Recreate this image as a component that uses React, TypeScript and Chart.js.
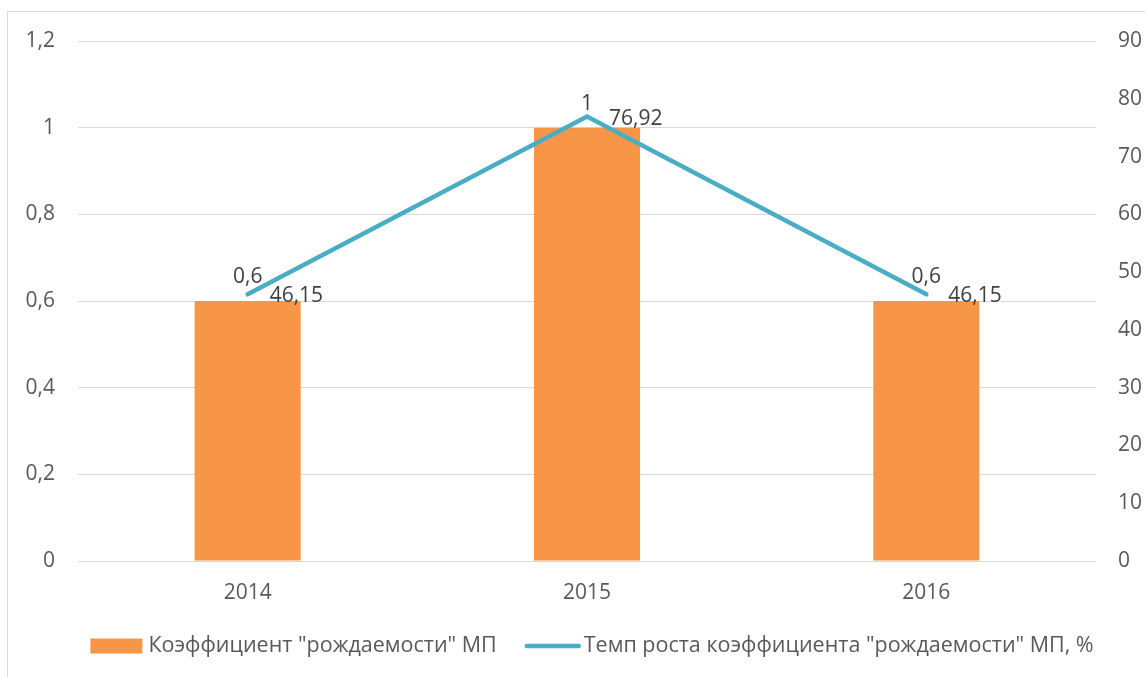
import React, { useEffect, useRef } from "react";
import { Chart, registerables } from "chart.js";

Chart.register(...registerables);

const categories = ["2014", "2015", "2016"];
const birthRate = [0.6, 1, 0.6];
const growthRate = [46.15, 76.92, 46.15];
const seriesNames = [
  'Коэффициент "рождаемости" МП',
  'Темп роста коэффициента "рождаемости" МП, %',
];

const ORANGE = "#f79646";
const TEAL = "#4bacc6";
const TEXT = "#595959";
const GRID = "#d9d9d9";
const FONT = '"Open Sans", "DejaVu Sans", sans-serif';

const fmt = (v: number) => String(Math.round(v * 100) / 100).replace(".", ",");

const dataLabelPlugin = {
  id: "dataLabels",
  afterDatasetsDraw(chart: any) {
    const ctx = chart.ctx;
    ctx.save();
    ctx.font = `21px ${FONT}`;
    ctx.fillStyle = "#404040";
    const barMeta = chart.getDatasetMeta(0);
    barMeta.data.forEach((el: any, i: number) => {
      ctx.textAlign = "center";
      ctx.textBaseline = "bottom";
      ctx.fillText(fmt(birthRate[i]), el.x, el.y - 13);
    });
    const lineMeta = chart.getDatasetMeta(1);
    lineMeta.data.forEach((el: any, i: number) => {
      ctx.textAlign = "left";
      ctx.textBaseline = "middle";
      ctx.fillText(fmt(growthRate[i]), el.x + 22, el.y + 2);
    });
    ctx.restore();
  },
};

const legendPlugin = {
  id: "customLegend",
  afterDraw(chart: any) {
    const ctx = chart.ctx;
    ctx.save();
    ctx.font = `21.5px ${FONT}`;
    ctx.fillStyle = TEXT;
    ctx.textAlign = "left";
    ctx.textBaseline = "middle";
    const items = [
      { kind: "box", w: 52, gap: 6, text: seriesNames[0] },
      { kind: "line", w: 56, gap: 3, text: seriesNames[1] },
    ];
    const itemGap = 28;
    const widths = items.map((it) => it.w + it.gap + ctx.measureText(it.text).width);
    const total = widths.reduce((a, b) => a + b, 0) + itemGap * (items.length - 1);
    const ca = chart.chartArea;
    let x = (ca.left + ca.right) / 2 + 5 - total / 2;
    const y = chart.height - 31;
    items.forEach((it, i) => {
      if (it.kind === "box") {
        ctx.fillStyle = ORANGE;
        ctx.fillRect(x, y - 7.5, it.w, 15);
      } else {
        ctx.strokeStyle = TEAL;
        ctx.lineWidth = 4.5;
        ctx.lineCap = "round";
        ctx.beginPath();
        ctx.moveTo(x + 2, y);
        ctx.lineTo(x + it.w - 2, y);
        ctx.stroke();
      }
      ctx.fillStyle = TEXT;
      ctx.fillText(it.text, x + it.w + it.gap, y);
      x += widths[i] + itemGap;
    });
    ctx.restore();
  },
};

export default function App() {
  const canvasRef = useRef<HTMLCanvasElement | null>(null);

  useEffect(() => {
    let chart: Chart | null = null;
    let cancelled = false;
    const make = () => {
      if (cancelled || !canvasRef.current) return;
      chart = new Chart(canvasRef.current, {
        type: "bar",
        data: {
          labels: categories,
          datasets: [
            {
              type: "bar",
              label: seriesNames[0],
              data: birthRate,
              backgroundColor: ORANGE,
              borderWidth: 0,
              yAxisID: "y",
              categoryPercentage: 1,
              barPercentage: 0.3125,
              order: 2,
            },
            {
              type: "line",
              label: seriesNames[1],
              data: growthRate,
              borderColor: TEAL,
              backgroundColor: TEAL,
              borderWidth: 4.5,
              pointRadius: 0,
              tension: 0,
              borderCapStyle: "round",
              borderJoinStyle: "miter",
              yAxisID: "y1",
              order: 1,
            } as any,
          ],
        },
        options: {
          animation: false,
          responsive: false,
          maintainAspectRatio: false,
          layout: { padding: { top: 41, bottom: 66, left: 0, right: 0 } },
          plugins: {
            legend: { display: false },
            tooltip: { enabled: false },
          },
          scales: {
            x: {
              grid: { display: false, drawTicks: false },
              border: { display: false },
              ticks: {
                color: TEXT,
                font: { family: FONT, size: 21 },
                padding: 19,
              },
              afterFit: (s: any) => {
                s.height = 50;
              },
            },
            y: {
              position: "left",
              min: 0,
              max: 1.2,
              grid: { color: GRID, lineWidth: 1, drawTicks: false },
              border: { display: false },
              ticks: {
                stepSize: 0.2,
                color: TEXT,
                font: { family: FONT, size: 21 },
                padding: 23,
                callback: (v: any) => fmt(Number(v)),
              },
              afterFit: (s: any) => {
                s.width = 78;
              },
            },
            y1: {
              position: "right",
              min: 0,
              max: 90,
              grid: { display: false, drawTicks: false },
              border: { display: false },
              ticks: {
                stepSize: 10,
                color: TEXT,
                font: { family: FONT, size: 21 },
                padding: 22,
                callback: (v: any) => fmt(Number(v)),
              },
              afterFit: (s: any) => {
                s.width = 49;
              },
            },
          },
        },
        plugins: [dataLabelPlugin, legendPlugin],
      });
    };
    const fonts: any = (document as any).fonts;
    if (fonts && fonts.load) {
      fonts.load(`20px "Open Sans"`).then(make, make);
    } else {
      make();
    }
    return () => {
      cancelled = true;
      if (chart) chart.destroy();
    };
  }, []);

  return (
    <div style={{ position: "absolute", left: 0, top: 0, width: 1145, height: 677, background: "#fff", overflow: "hidden" }}>
      <div
        style={{
          position: "absolute",
          left: 7,
          top: 11,
          width: 1200,
          height: 700,
          border: `1px solid ${GRID}`,
          boxSizing: "border-box",
        }}
      />
      <canvas
        ref={canvasRef}
        width={1145}
        height={677}
        style={{ position: "absolute", left: 0, top: 0, width: 1145, height: 677 }}
      />
    </div>
  );
}
